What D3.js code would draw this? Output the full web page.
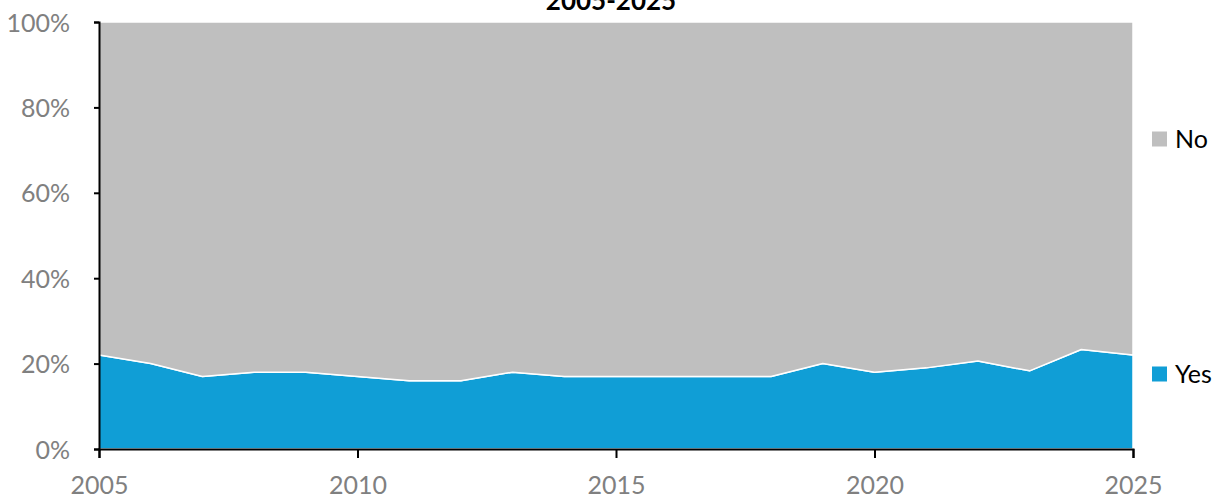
<!DOCTYPE html>
<html>
<head>
<meta charset="utf-8">
<script src="https://cdn.jsdelivr.net/npm/d3@7"></script>
<style>
  body { margin: 0; background: #fff; }
  svg { display: block; font-family: Lato, "Open Sans", sans-serif; }
</style>
</head>
<body>
<svg id="chart" width="1226" height="500"></svg>
<script>
'use strict'

// values (percent answering "Yes")
var years = d3.range(2005, 2026)
var yesValues = [22, 20, 17, 18, 18, 17, 16, 16, 18, 17, 17, 17, 17, 17, 20, 18, 19, 20.6, 18.3, 23.3, 22]
var noValues = yesValues.map((v) => 100 - v)
var seriesKeys = ['Yes', 'No']
var seriesColors = { Yes: '#109ed6', No: '#bfbfbf' }
var xTicks = [2005, 2010, 2015, 2020, 2025]
var yTicks = [0, 0.2, 0.4, 0.6, 0.8, 1]
var title = '2005-2025'

var rows = years.map((yr, i) => ({ year: yr, Yes: yesValues[i], No: noValues[i] }))

var svg = d3.select('#chart')
var margin = { left: 99, right: 93, top: 22, bottom: 51 }
var width = 1226, height = 500

var x = d3.scaleLinear()
  .domain([2005, 2025])
  .range([margin.left, width - margin.right])
var y = d3.scaleLinear()
  .domain([0, 1])
  .range([height - margin.bottom, margin.top])

var stacked = d3.stack()
  .keys(seriesKeys)
  .offset(d3.stackOffsetExpand)(rows)

var area = d3.area()
  .x((d) => x(d.data.year))
  .y0((d) => y(d[0]))
  .y1((d) => y(d[1]))

svg.append('g')
  .selectAll('path')
  .data(stacked)
  .enter().append('path')
    .attr('d', area)
    .attr('fill', (d) => seriesColors[d.key])
    .attr('stroke', '#fff')
    .attr('stroke-width', 1.5)
    .attr('stroke-linejoin', 'round')

// axes
var yAxis = svg.append('g')
  .attr('transform', 'translate(' + margin.left + ',0)')
  .call(d3.axisLeft(y).tickValues(yTicks).tickSize(5).tickPadding(24).tickFormat(d3.format('.0%')))

var xAxis = svg.append('g')
  .attr('transform', 'translate(0,' + (height - margin.bottom) + ')')
  .call(d3.axisBottom(x).tickValues(xTicks).tickSize(9).tickPadding(16).tickFormat(d3.format('d')))

for (var ax of [yAxis, xAxis]) {
  ax.select('.domain').attr('stroke', '#000').attr('stroke-width', 2)
  ax.selectAll('.tick line').attr('stroke', '#000').attr('stroke-width', 2)
  ax.selectAll('.tick text')
    .attr('fill', '#808080')
    .style('font-size', '25px')
    .style('font-family', 'Lato, "Open Sans", sans-serif')
}
yAxis.selectAll('.tick text').attr('dy', '0.36em')
xAxis.selectAll('.tick text').attr('dy', '0.8em')

// title, cut off at the top as in the reference
svg.append('text')
  .attr('x', 611)
  .attr('y', 10)
  .attr('text-anchor', 'middle')
  .style('font-size', '26px')
  .style('font-weight', 'bold')
  .text(title)

// legend
var legendY = { No: 139, Yes: 374 }
var legend = svg.append('g')
  .selectAll('g')
  .data(seriesKeys)
  .enter().append('g')
    .attr('transform', (d) => 'translate(1152,' + legendY[d] + ')')

legend.append('rect')
  .attr('x', 0)
  .attr('y', -7.5)
  .attr('width', 15)
  .attr('height', 15)
  .attr('fill', (d) => seriesColors[d])

legend.append('text')
  .attr('x', 23)
  .attr('dy', '0.36em')
  .style('font-size', '25px')
  .attr('fill', '#000')
  .text((d) => d)
</script>
</body>
</html>
